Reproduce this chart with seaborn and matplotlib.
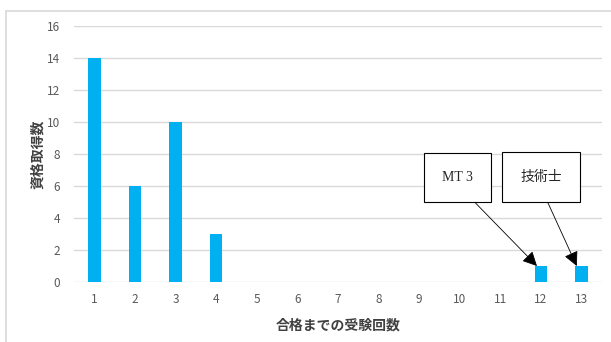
import numpy as np
import pandas as pd
import matplotlib
matplotlib.use("Agg")
import matplotlib.pyplot as plt
import seaborn as sns

# data
attempts = [str(i) for i in range(1, 14)]
counts = [14, 6, 10, 3, 0, 0, 0, 0, 0, 0, 0, 1, 1]
yticks = [0, 2, 4, 6, 8, 10, 12, 14, 16]

df = pd.DataFrame({"attempts": attempts, "counts": counts})

sns.set_theme(style="white")
plt.rcParams["font.family"] = ["Noto Sans CJK JP", "DejaVu Sans"]

fig = plt.figure(figsize=(6.11, 3.42), dpi=100)
ax = fig.add_axes([0.1211, 0.1754, 0.8641, 0.7485])

sns.barplot(data=df, x="attempts", y="counts", color="#00B0F0",
            saturation=1, width=0.31, linewidth=0, ax=ax, zorder=3)

ax.set_ylim(0, 16)
ax.set_yticks(yticks)
ax.set_xlim(-0.5, 12.5)
ax.grid(axis="y", color="#D9D9D9", lw=1.0, zorder=0)
for s in ax.spines.values():
    s.set_visible(False)
ax.tick_params(axis="both", length=0, labelsize=8.5, colors="#595959")
ax.tick_params(axis="y", pad=10)
ax.tick_params(axis="x", pad=8)

ax.set_xlabel("合格までの受験回数", fontsize=10, fontweight="bold", color="#404040", labelpad=9)
ax.set_ylabel("資格取得数", fontsize=10, fontweight="bold", color="#404040", labelpad=1.5)

# annotation boxes with arrows
arrow = dict(arrowstyle="-|>", mutation_scale=22, lw=0.6, color="black",
             shrinkA=0, shrinkB=0, relpos=(0.46, 0))
ax.annotate("MT 3", xy=(10.9, 1.0), xytext=(8.95, 6.56), textcoords="data",
            ha="center", va="center", fontsize=10,
            family=["Liberation Serif", "Noto Sans CJK JP"],
            bbox=dict(boxstyle="square,pad=1.3", fc="white", ec="black", lw=0.8),
            arrowprops=arrow, zorder=5)
ax.annotate("技術士", xy=(11.88, 1.0), xytext=(11.0, 6.56), textcoords="data",
            ha="center", va="center", fontsize=10,
            family=["Noto Sans CJK JP", "DejaVu Sans"],
            bbox=dict(boxstyle="square,pad=1.3", fc="white", ec="black", lw=0.8),
            arrowprops=arrow, zorder=5)

# outer chart frame (open at right/bottom like the cropped reference)
fig.add_artist(plt.Line2D([6 / 611, 6 / 611], [0, 1 - 10.5 / 342],
                          transform=fig.transFigure, color="#D9D9D9", lw=1.2))
fig.add_artist(plt.Line2D([6 / 611, 1], [1 - 10.5 / 342, 1 - 10.5 / 342],
                          transform=fig.transFigure, color="#D9D9D9", lw=1.2))

fig.savefig("out.png", dpi=100)
